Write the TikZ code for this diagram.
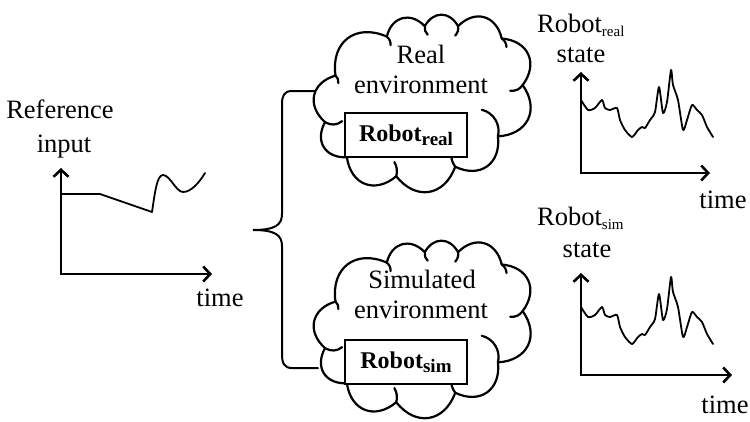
\documentclass[tikz,border=0pt]{standalone}
\usepackage{fontspec}
\setmainfont{Liberation Serif}
\usetikzlibrary{arrows.meta}
\newcommand\boxsub[1]{\raisebox{-4pt}{\fontsize{19}{19}\selectfont #1}}
\newcommand\lblsub[1]{\raisebox{-4pt}{\fontsize{15}{15}\selectfont #1}}
\newcommand\drawcloud[2]{%
 \begin{scope}[shift={(#1,#2)}, scale=0.95, line width=2.2pt, line join=round, line cap=round,
   puff/.style={bend left=#1, looseness=1.35}]
  \filldraw[fill=white] (-101,18) to[puff=82] (-90,-31) to[puff=80] (-36,-72)
    to[puff=78] (4,-83) to[puff=85] (39,-83) to[puff=82] (85,-70)
    to[puff=82] (107,-21) to[puff=82] (81,33) to[puff=80] (36,65)
    to[puff=82] (-26,75) to[puff=78] (-78,55) to[puff=80] (-101,18);
  \draw (-90,-31) to[bend left=25] (-87,-23);
  \draw (-36,-72) to[bend left=25] (-32,-63);
  \draw (4,-83) to[bend right=25] (7,-74);
  \draw (39,-83) to[bend left=25] (36,-73);
  \draw (85,-70) to[bend left=25] (90,-61);
  \draw (107,-21) to[bend left=30] (94,-15);
  \draw (81,33) to[bend right=45] (64,5);
  \draw (36,65) to[bend left=20] (32,50);
  \draw (-26,75) to[bend right=20] (-28,60);
  \draw (-78,55) to[bend right=20] (-75,48);
  \draw (-101,18) to[bend right=35] (-83,17);
 \end{scope}}
\begin{document}
\begin{tikzpicture}[x=1pt,y=-1pt,
  every node/.style={font=\fontsize{26.5}{30}\selectfont, inner sep=0pt},
  lbl/.style={anchor=base},
  axis/.style={line width=2.6pt, {Straight Barb[length=7pt,width=15pt]}-{Straight Barb[length=7pt,width=15pt]}},
  sig/.style={line width=1.8pt, line join=round, line cap=round},
  robotbox/.style={draw, line width=1.8pt, minimum width=122pt, minimum height=44pt, fill=white, font=\fontsize{24}{28}\selectfont\bfseries},
  bracestyle/.style={line width=2pt, line cap=round}]
\useasboundingbox (0,0) rectangle (750,421);
\fill[white] (0,0) rectangle (750,421);

% left graph
\node[lbl] (refA) at (60,118) {Reference};
\node[lbl] (refB) at (64,152) {input};
\coordinate (o1) at (61,274);
\coordinate (y1) at (61,168);
\coordinate (x1) at (212,274);
\draw[axis] (y1) -- (o1) -- (x1);
\node[lbl] (t1) at (220,306) {time};
\draw[sig] (61,194) -- (100,194) -- (152,212) .. controls (155,192) and (157,175) .. (163,175) .. controls (170,175) and (176,192) .. (183,192) .. controls (191,192) and (199,183) .. (205,173);

% brace
\coordinate (bA) at (318,91);
\coordinate (bB) at (318,368);
\coordinate (bM) at (253,230);
\draw[bracestyle] (bA) -- (292,91) .. controls (284,91) and (282,96) .. (282,104) -- (282,214) .. controls (282,225) and (275,230) .. (bM) .. controls (275,230) and (282,235) .. (282,246) -- (282,354) .. controls (282,363) and (284,368) .. (292,368) -- (bB);

% clouds
\drawcloud{421}{105}
\drawcloud{421}{331}

\node[lbl] (real) at (421,63) {Real};
\node[lbl] (env1) at (421,93) {environment};
\node[robotbox] (rr) at (406,135) {Robot\boxsub{real}};
\node[lbl] (sim) at (422,288) {Simulated};
\node[lbl] (env2) at (421,318) {environment};
\node[robotbox] (rs) at (406,362) {Robot\boxsub{sim}};

% right top graph
\node[lbl, anchor=base west] (sr) at (537,32) {Robot\lblsub{real}};
\node[lbl] (st1) at (581,62) {state};
\coordinate (o2) at (581,173);
\coordinate (y2) at (581,72);
\coordinate (x2) at (710,173);
\draw[axis] (y2) -- (o2) -- (x2);
\node[lbl] (t2) at (723,208) {time};
\draw[sig] plot[smooth, tension=0.4] coordinates {(581,100)(588,110)(595,108)(602,100)(605,108)(610,110)(617,108)(620,120)(625,130)(632,137)(638,130)(642,127)(645,128)(650,120)(655,112)(659,87)(663,113)(667,102)(671,70)(673,85)(678,100)(683,130)(687,120)(692,105)(697,110)(702,115)(707,127)(713,137)};

% right bottom graph
\node[lbl, anchor=base west] (ss) at (537,225) {Robot\lblsub{sim}};
\node[lbl] (st2) at (587,257) {state};
\coordinate (o3) at (581,375);
\coordinate (y3) at (581,273);
\coordinate (x3) at (732,375);
\draw[axis] (y3) -- (o3) -- (x3);
\node[lbl] (t3) at (725,413) {time};
\draw[sig, shift={(0,207)}] plot[smooth, tension=0.4] coordinates {(581,100)(588,110)(595,108)(602,100)(605,108)(610,110)(617,108)(620,120)(625,130)(632,137)(638,130)(642,127)(645,128)(650,120)(655,112)(659,87)(663,113)(667,102)(671,70)(673,85)(678,100)(683,130)(687,120)(692,105)(697,110)(702,115)(707,127)(713,137)};
\end{tikzpicture}
\end{document}
